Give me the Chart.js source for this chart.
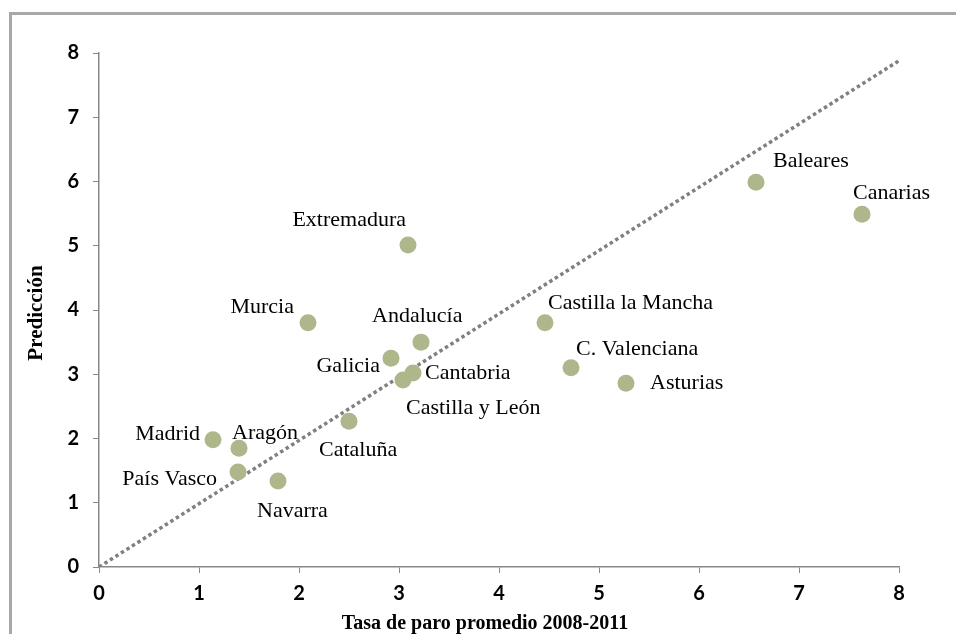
<!DOCTYPE html>
<html>
<head>
<meta charset="utf-8">
<script src="https://cdn.jsdelivr.net/npm/chart.js@4/dist/chart.umd.min.js"></script>
<style>
  html, body { margin: 0; padding: 0; background: #ffffff; }
  #wrap { position: relative; width: 956px; height: 634px; }
  canvas { display: block; }
</style>
</head>
<body>
<div id="wrap"><canvas id="c" width="956" height="634"></canvas></div>
<script>
// ---- data ----
const regions = ["Madrid", "Aragón", "País Vasco", "Navarra", "Cataluña", "Murcia", "Galicia",
  "Castilla y León", "Cantabria", "Andalucía", "Extremadura", "Castilla la Mancha",
  "C. Valenciana", "Asturias", "Baleares", "Canarias"];
const paroPromedio = [1.14, 1.40, 1.39, 1.79, 2.50, 2.09, 2.92, 3.04, 3.14, 3.22, 3.09, 4.46, 4.72, 5.27, 6.57, 7.63];
const prediccion   = [1.98, 1.85, 1.48, 1.34, 2.27, 3.80, 3.25, 2.91, 3.02, 3.50, 5.01, 3.80, 3.10, 2.86, 5.99, 5.49];
const trendX = [0, 8];
const trendY = [0, 7.88];
const tickValues = [0, 1, 2, 3, 4, 5, 6, 7, 8];
const xTitle = "Tasa de paro promedio 2008-2011";
const yTitle = "Predicción";

// ---- label placement (style only) ----
const labelPlacement = {
  "Madrid": ["right", -13, -6],
  "Aragón": ["left", -7, -15],
  "País Vasco": ["right", -21, 7],
  "Navarra": ["left", -21, 30],
  "Cataluña": ["left", -30, 29],
  "Murcia": ["right", -14, -16],
  "Galicia": ["right", -11, 8],
  "Castilla y León": ["left", 3, 28],
  "Cantabria": ["left", 12, 0],
  "Andalucía": ["left", -49, -26],
  "Extremadura": ["right", -2, -25],
  "Castilla la Mancha": ["left", 3, -20],
  "C. Valenciana": ["left", 5, -19],
  "Asturias": ["left", 24, 0],
  "Baleares": ["left", 17, -21],
  "Canarias": ["left", -9, -21]
};

const points = paroPromedio.map((x, i) => ({ x: x, y: prediccion[i] }));
const trend = trendX.map((x, i) => ({ x: x, y: trendY[i] }));

const decor = {
  id: 'decor',
  beforeDraw(chart) {
    const ctx = chart.ctx;
    ctx.save();
    ctx.fillStyle = '#ffffff';
    ctx.fillRect(0, 0, chart.width, chart.height);
    ctx.strokeStyle = '#a8a8a8';
    ctx.lineWidth = 3;
    ctx.beginPath();
    ctx.moveTo(10.5, 640);
    ctx.lineTo(10.5, 13.5);
    ctx.lineTo(960, 13.5);
    ctx.stroke();
    ctx.restore();
  },
  afterDatasetsDraw(chart) {
    const ctx = chart.ctx;
    const meta = chart.getDatasetMeta(1);
    ctx.save();
    ctx.fillStyle = '#000000';
    ctx.font = '22px "Liberation Serif", "Times New Roman", serif';
    ctx.textBaseline = 'middle';
    meta.data.forEach((el, i) => {
      const name = regions[i];
      const p = labelPlacement[name];
      ctx.textAlign = p[0];
      ctx.fillText(name, el.x + p[1], el.y + p[2]);
    });
    // axis titles
    ctx.font = 'bold 20px "Liberation Serif", "Times New Roman", serif';
    ctx.textAlign = 'center';
    ctx.textBaseline = 'middle';
    ctx.fillText(xTitle, 485, 624);
    ctx.font = 'bold 21px "Liberation Serif", "Times New Roman", serif';
    ctx.translate(37, 313);
    ctx.rotate(-Math.PI / 2);
    ctx.fillText(yTitle, 0, 0);
    ctx.restore();
  }
};

const tickFont = { family: 'Lato, "Open Sans", sans-serif', size: 20, weight: 'bold' };

new Chart(document.getElementById('c'), {
  type: 'scatter',
  data: {
    datasets: [
      {
        type: 'line',
        data: trend,
        borderColor: '#808080',
        borderWidth: 3.5,
        borderDash: [3.5, 3],
        pointRadius: 0,
        fill: false,
        order: 2
      },
      {
        data: points,
        backgroundColor: 'rgb(174,183,140)',
        borderColor: 'rgb(174,183,140)',
        pointRadius: 8.5,
        pointHoverRadius: 8.5,
        borderWidth: 0,
        order: 1
      }
    ]
  },
  options: {
    responsive: false,
    animation: false,
    devicePixelRatio: 1,
    layout: { padding: { left: 20, top: 53, right: 57, bottom: 0 } },
    plugins: { legend: { display: false }, tooltip: { enabled: false } },
    scales: {
      x: {
        type: 'linear',
        min: 0, max: 8,
        afterBuildTicks: (s) => { s.ticks = tickValues.map(v => ({ value: v })); },
        afterFit: (s) => { s.height = 67; },
        grid: { display: true, drawOnChartArea: false, drawTicks: true, tickLength: 6, color: '#888888', lineWidth: 1 },
        border: { color: '#888888', width: 1.5 },
        ticks: { font: tickFont, color: '#000000', padding: 9, maxRotation: 0 }
      },
      y: {
        type: 'linear',
        min: 0, max: 8,
        afterBuildTicks: (s) => { s.ticks = tickValues.map(v => ({ value: v })); },
        afterFit: (s) => { s.width = 79; },
        grid: { display: true, drawOnChartArea: false, drawTicks: true, tickLength: 6, color: '#888888', lineWidth: 1 },
        border: { color: '#888888', width: 1.5 },
        ticks: { font: tickFont, color: '#000000', padding: 14 }
      }
    }
  },
  plugins: [decor]
});
</script>
</body>
</html>
